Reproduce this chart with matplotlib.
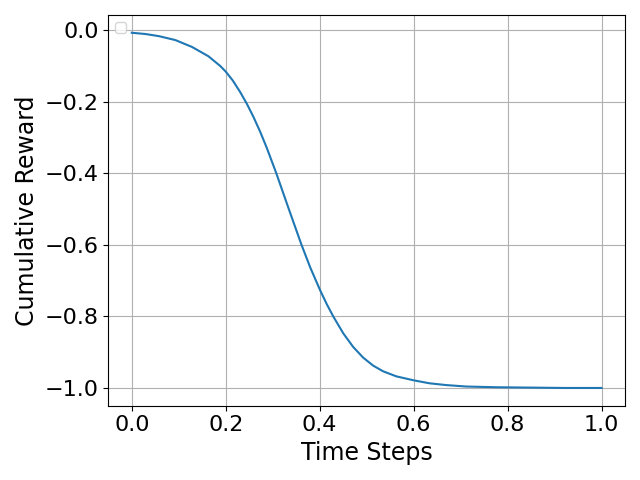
import matplotlib
matplotlib.use("Agg")
import matplotlib.pyplot as plt

# values
time_steps = [0.000, 0.029, 0.058, 0.093, 0.128, 0.163, 0.1885, 0.200, 0.215, 0.2308,
              0.245, 0.259, 0.273, 0.2875, 0.307, 0.334, 0.361, 0.380, 0.401, 0.415,
              0.4289, 0.4502, 0.4714, 0.4926, 0.5138, 0.535, 0.5633, 0.600, 0.634, 0.670,
              0.712, 0.776, 0.850, 0.920, 1.000]
cumulative_reward = [-0.0075, -0.011, -0.017, -0.028, -0.047, -0.073, -0.1005, -0.116, -0.1408, -0.1732,
                     -0.206, -0.2425, -0.283, -0.3294, -0.3976, -0.4989, -0.5988, -0.6635, -0.727, -0.7655,
                     -0.800, -0.8473, -0.8855, -0.9152, -0.9375, -0.9534, -0.9676, -0.9786, -0.987, -0.992,
                     -0.996, -0.998, -0.999, -1.000, -1.000]

fig, ax = plt.subplots(figsize=(6.4, 4.8), dpi=100)
ax.plot(time_steps, cumulative_reward, color="#1f77b4")
ax.set_xlabel("Time Steps", fontsize=17)
ax.set_ylabel("Cumulative Reward", fontsize=17)
ax.tick_params(labelsize=16)
ax.grid(True)
# empty legend box, as in the original
ax.legend(handles=[], loc="upper left")

plt.tight_layout()
plt.savefig("out.png")
